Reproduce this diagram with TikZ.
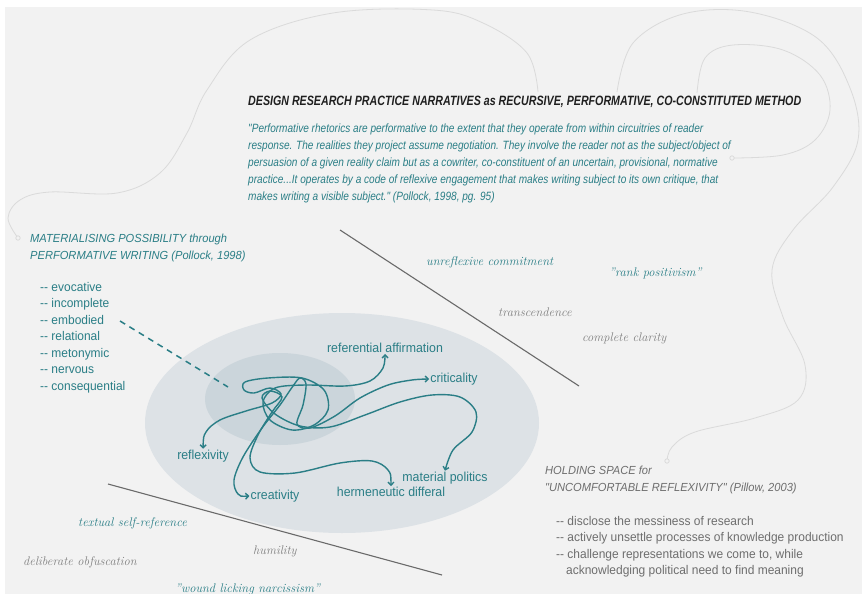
\documentclass[tikz,border=0pt]{standalone}
\usepackage{fontspec}
\usetikzlibrary{arrows.meta, positioning}
\newfontfamily\condfont[FakeStretch=0.79]{Liberation Sans}
\newfontfamily\quotefont[FakeStretch=0.84]{Liberation Sans}
\newfontfamily\plainfont[FakeStretch=0.95]{Liberation Sans}
\definecolor{pagegrey}{HTML}{F2F2F2}
\definecolor{tealink}{HTML}{2A7E86}
\definecolor{softgrey}{HTML}{808080}
\definecolor{holdgrey}{HTML}{6E6E6E}
\definecolor{rulegrey}{HTML}{6A6A6A}
\definecolor{hazeout}{HTML}{DDE2E6}
\definecolor{hazein}{HTML}{CBD5DB}
\definecolor{threadgrey}{HTML}{DADADA}
\newcommand\listdash{-{}-}

\begin{document}
\begin{tikzpicture}[
    x=1pt, y=-1pt,
    >={Straight Barb[length=3pt, width=6pt]},
    head title/.style={font=\condfont\bfseries\itshape\fontsize{13.5}{16}\selectfont,
        text=black!88, inner sep=0pt, anchor=west},
    quote text/.style={font=\quotefont\itshape\fontsize{12}{17}\selectfont,
        text=tealink, align=left, inner sep=0pt, anchor=north west},
    block head/.style={font=\plainfont\itshape\fontsize{11.7}{16.5}\selectfont,
        align=left, inner sep=0pt, anchor=north west},
    list text/.style={font=\plainfont\fontsize{12.6}{16.5}\selectfont,
        align=left, inner sep=0pt, anchor=north west},
    thread label/.style={font=\plainfont\fontsize{13}{15}\selectfont,
        text=tealink, inner sep=1pt},
    pole word/.style={font=\rmfamily\itshape\fontsize{12.5}{15}\selectfont,
        inner sep=0pt, anchor=west},
    tangle/.style={draw=tealink, line width=1.4pt, <->, line cap=round},
    faint thread/.style={draw=threadgrey, line width=0.8pt},
    divider/.style={draw=rulegrey, line width=1.1pt},
    lead dash/.style={draw=tealink, line width=1.5pt, dash pattern=on 6pt off 5pt},
]

% ══════════════════════════════════════════════════════════════════════
%  CANVAS
% ══════════════════════════════════════════════════════════════════════
\useasboundingbox (0,0) rectangle (862,594);
\fill[white] (0,0) rectangle (862,594);
\fill[pagegrey] (5,7) rectangle (862,594);

% ── faint background threads ──────────────────────────────────────────
\draw[faint thread] plot[smooth, tension=0.6] coordinates {(18,238) (8,218)
    (20,200) (50,192) (117,193) (160,173) (187,133) (207,90) (250,40)
    (333,13) (433,10) (483,23) (527,53) (538,92)};
\draw[faint thread, fill=pagegrey] (18,238) circle (2.2pt);
\draw[faint thread] plot[smooth, tension=0.6] coordinates {(617,92) (633,43)
    (683,14) (750,12) (817,38) (850,88) (858,140) (833,187) (793,230)
    (772,270) (783,317) (805,365) (798,400) (755,418) (695,432) (672,447)
    (667,461)};
\draw[faint thread, fill=pagegrey] (667,461) circle (2.2pt);
\draw[faint thread] plot[smooth, tension=0.6] coordinates {(697,93) (705,58)
    (733,45) (783,50) (820,75) (830,110) (815,140) (783,155) (732,158)};
\draw[faint thread, fill=pagegrey] (732,158) circle (2.2pt);

% ══════════════════════════════════════════════════════════════════════
%  HEADER
% ══════════════════════════════════════════════════════════════════════
\node[head title] (title) at (248,102)
    {DESIGN RESEARCH PRACTICE NARRATIVES as RECURSIVE, PERFORMATIVE, CO-CONSTITUTED METHOD};
\node[quote text] (quote) at (248,124)
    {"Performative rhetorics are performative to the extent that they operate from within circuitries of reader\\
     response. The realities they project assume negotiation. They involve the reader not as the subject/object of\\
     persuasion of a given reality claim but as a cowriter, co-constituent of an uncertain, provisional, normative\\
     practice...It operates by a code of reflexive engagement that makes writing subject to its own critique, that\\
     makes writing a visible subject." (Pollock, 1998, pg. 95)};

% ══════════════════════════════════════════════════════════════════════
%  FIELDS
% ══════════════════════════════════════════════════════════════════════
\fill[hazeout] (342,423) ellipse [x radius=197pt, y radius=110pt];
\fill[hazein] (280,399) ellipse [x radius=75pt, y radius=46pt];

\coordinate (upper cut a) at (340,230);
\coordinate (upper cut b) at (579,386);
\coordinate (lower cut a) at (108,484);
\coordinate (lower cut b) at (442,575);
\draw[divider] (upper cut a) -- (upper cut b);
\draw[divider] (lower cut a) -- (lower cut b);

% ── Pollock ───────────────────────────────────────────────────────────
\node[block head, text=tealink] (pollock) at (30,234)
    {MATERIALISING POSSIBILITY through\\PERFORMATIVE WRITING (Pollock, 1998)};
\node[list text, text=tealink] (qualities) at (40,282)
    {\listdash{} evocative\\ \listdash{} incomplete\\ \listdash{} embodied\\
     \listdash{} relational\\ \listdash{} metonymic\\ \listdash{} nervous\\
     \listdash{} consequential};
\coordinate (lead a) at (120,321);
\coordinate (lead b) at (228,387);
\draw[lead dash] (lead a) -- (lead b);

% ── Pillow ────────────────────────────────────────────────────────────
\node[block head, text=holdgrey] (holding) at (545,466)
    {HOLDING SPACE for\\"UNCOMFORTABLE REFLEXIVITY" (Pillow, 2003)};
\node[list text, text=holdgrey] (pillow) at (556,516)
    {\listdash{} disclose the messiness of research\\
     \listdash{} actively unsettle processes of knowledge production\\
     \listdash{} challenge representations we come to, while\\
     \hspace*{10pt}acknowledging political need to find meaning};

% ── pole words ────────────────────────────────────────────────────────
\node[pole word, text=tealink]  (unrefl)   at (426,262) {unreflexive commitment};
\node[pole word, text=tealink]  (rank)     at (609,273) {"rank positivism"};
\node[pole word, text=softgrey] (transc)   at (498,312) {transcendence};
\node[pole word, text=softgrey] (clarity)  at (582,338) {complete clarity};
\node[pole word, text=tealink]  (selfref)  at (78,523)  {textual self-reference};
\node[pole word, text=softgrey] (humility) at (253,551) {humility};
\node[pole word, text=softgrey] (obfusc)   at (23,562)  {deliberate obfuscation};
\node[pole word, text=tealink]  (wound)    at (175,589) {"wound licking narcissism"};

% ══════════════════════════════════════════════════════════════════════
%  TANGLE
% ══════════════════════════════════════════════════════════════════════
\node[thread label] (refaff) at (385,348) {referential affirmation};
\node[thread label] (crit)   at (454,379) {criticality};
\node[thread label] (reflex) at (203,456) {reflexivity};
\node[thread label] (matpol) at (445,478) {material politics};
\node[thread label] (herm)   at (391,492) {hermeneutic differal};
\node[thread label] (creat)  at (275,496) {creativity};

\draw[tangle] plot[smooth, tension=0.55] coordinates {(reflex.north) (206,432)
    (220,420) (246,411) (272,403) (281,394) (270,388) (254,393) (244,390)
    (245,382) (268,378) (302,378) (324,390) (328,410) (314,425) (292,430)
    (270,420) (263,402) (275,388) (305,385) (345,386) (370,381) (383,368)
    (refaff.south)};
\draw[tangle] plot[smooth, tension=0.55] coordinates {(creat.west) (238,494)
    (234,480) (243,457) (262,428) (280,405) (293,386) (300,378) (306,384)
    (303,405) (297,424) (310,428) (335,416) (360,398) (388,385) (412,380)
    (crit.west)};
\draw[tangle] plot[smooth, tension=0.55] coordinates {(herm.north) (388,470)
    (372,461) (340,463) (295,473) (260,472) (250,458) (258,435) (272,412)
    (282,397) (270,391) (262,398) (275,414) (300,426) (330,427) (365,415)
    (400,402) (432,395) (460,397) (476,412) (472,432) (453,450) (matpol.north)};

\end{tikzpicture}
\end{document}
